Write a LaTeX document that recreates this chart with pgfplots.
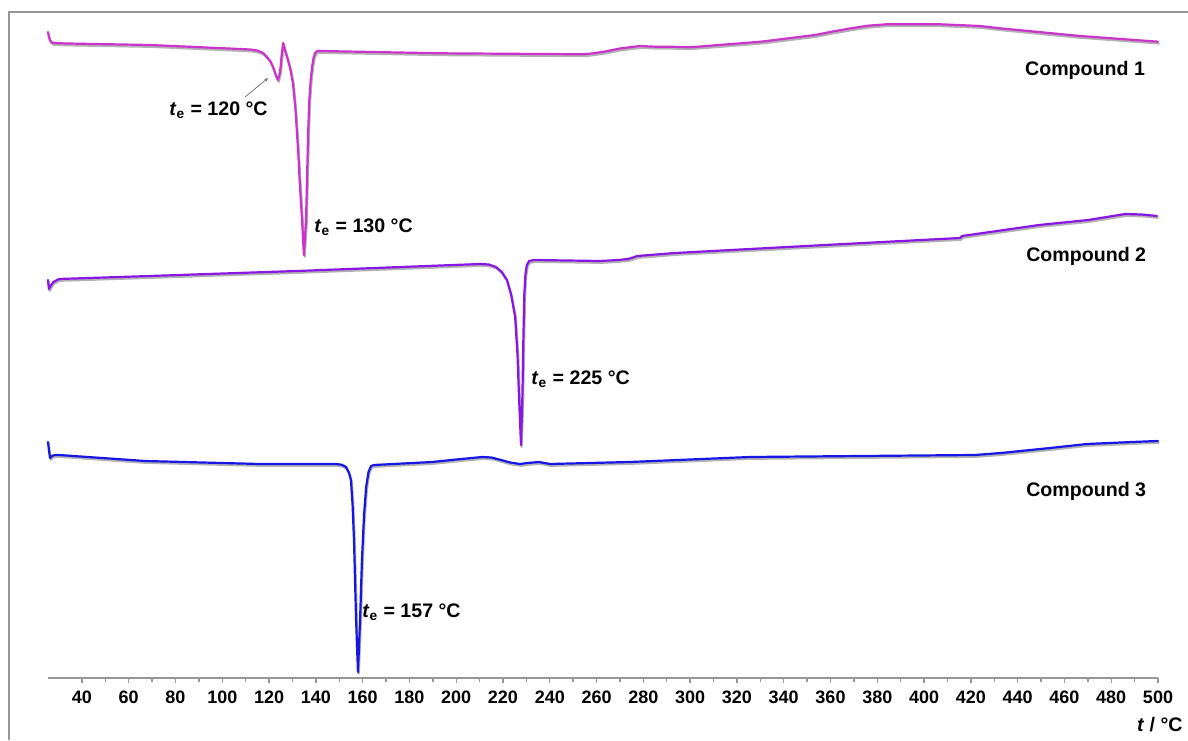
\documentclass[border=0pt]{standalone}
\usepackage{pgfplots}
\pgfplotsset{compat=1.18}
\usepackage{pgfplotstable}
\usepackage{fontspec}
\setmainfont{Liberation Sans}
\usetikzlibrary{arrows.meta}
\definecolor{cA}{RGB}{204,51,204}
\definecolor{cB}{RGB}{138,22,230}
\definecolor{cC}{RGB}{22,22,230}
\definecolor{frame}{RGB}{150,150,150}

\pgfplotstableread{
x y
25.5 708
25.9 703
26.5 699
27.6 697
33.6 696.5
69.1 695
104.6 691.3
112.0 690.5
114.9 689.5
117.5 687
119.1 683
120.5 679
121.7 673
123.0 664
123.8 660
124.7 668
125.4 685
126.0 697
126.8 690
127.7 683
129.0 672
130.2 657
131.3 630
132.4 590
133.3 550
134.1 520
134.9 485
135.8 520
136.7 607
137.2 640
137.8 660
138.4 673
139.0 682
139.7 687
140.6 689
141.8 689
193.1 686.7
254.2 685.7
258.0 686.5
263.2 688.3
270.0 691.5
278.6 694
285.0 693.3
291.0 693.3
300.0 692.7
330.3 698.3
353.4 705
361.0 708.5
368.8 711.7
376.0 714.3
383.8 715.7
395.0 715.8
406.9 715.7
416.0 714.8
423.9 714
432.5 711.7
466.7 704
500.0 698.3
}\dataA

\pgfplotstableread{
x y
25.5 460
25.9 451
26.6 454
27.8 458
30.2 461
69.1 464
131.9 469
210.2 476
214.0 475.5
217.0 473
219.5 468
221.7 460
223.5 445
225.2 423
226.2 385
226.9 340
227.7 295
228.3 345
228.7 400
229.1 445
229.6 466
230.2 475
231.2 479
233.3 480
261.5 479
269.2 480
273.5 481
277.5 484
293.6 487
357.7 495
415.4 502
416.3 504
449.2 515
470.2 520
486.0 526
493.0 525.5
499.6 524
}\dataB

\pgfplotstableread{
x y
25.5 298
26.0 288
26.4 282
27.1 284
28.5 285
30.2 285
67.0 279
116.1 276
148.6 276
151.0 275.3
152.9 273
154.2 267
155.0 260
155.7 235
156.3 200
157.2 120
158.0 68
158.9 120
159.7 180
160.6 225
161.5 253
162.5 268
163.6 274
164.9 275
189.7 278
200.0 280.5
211.1 283
215.0 282.5
219.2 280
223.0 277.5
227.3 276
230.3 277
235.4 278
240.1 276
274.3 278
325.6 283
373.5 284
421.8 285
432.9 287
453.9 292
469.7 296
489.0 298
500.0 299
}\dataC

\begin{document}
\begin{tikzpicture}
\path[use as bounding box] (0pt,0pt) rectangle (594pt,370pt);
\begin{axis}[
  at={(24pt,31pt)}, anchor=south west,
  scale only axis, width=555pt, height=333pt,
  xmin=25.5, xmax=500, ymin=62, ymax=728,
  axis x line*=bottom, axis y line=none,
  axis line style={frame, line width=1pt},
  xtick={40,60,...,500},
  minor x tick num=1,
  tick align=outside, xtick pos=bottom,
  major tick length=2.4pt, minor tick length=1.8pt,
  tick style={frame, line width=0.7pt},
  /pgf/number format/assume math mode=true,
  xticklabel style={font=\bfseries\fontsize{9}{10}\selectfont, yshift=-0.6pt},
  clip=false,
  every axis plot/.append style={line width=1.1pt, line join=round, line cap=round},
]
\addplot[black!30, no marks, xshift=0.4pt, yshift=-0.9pt] table[x=x,y=y]{\dataA};
\addplot[cA, no marks] table[x=x,y=y]{\dataA};
\addplot[black!30, no marks, xshift=0.4pt, yshift=-0.9pt] table[x=x,y=y]{\dataB};
\addplot[cB, no marks] table[x=x,y=y]{\dataB};
\addplot[black!30, no marks, xshift=0.4pt, yshift=-0.9pt] table[x=x,y=y]{\dataC};
\addplot[cC, no marks] table[x=x,y=y]{\dataC};

\tikzset{lab/.style={font=\bfseries\fontsize{9.8}{11}\selectfont, inner sep=0pt}}
\node[lab, anchor=west] at (axis cs:77.2,630) {\textit{t}\textsubscript{e} = 120 °C};
\draw[black!60, line width=0.35pt, -{Stealth[length=2pt,width=1.6pt]}] (axis cs:109.7,643) -- (axis cs:119.6,662);
\node[lab, anchor=west] at (axis cs:139.2,513) {\textit{t}\textsubscript{e} = 130 °C};
\node[lab, anchor=west] at (axis cs:232.0,361) {\textit{t}\textsubscript{e} = 225 °C};
\node[lab, anchor=west] at (axis cs:159.7,128) {\textit{t}\textsubscript{e} = 157 °C};
\node[lab] at (axis cs:468.8,670) {Compound 1};
\node[lab] at (axis cs:469.3,484) {Compound 2};
\node[lab] at (axis cs:469.3,249) {Compound 3};
\end{axis}
\draw[frame, line width=1pt] (4.5pt,0pt) -- (4.5pt,364pt) -- (594pt,364pt);
\node[font=\bfseries\fontsize{9.8}{11}\selectfont, inner sep=0pt, anchor=east] at (591.5pt,7.5pt) {\textit{t} / °C};
\end{tikzpicture}
\end{document}
